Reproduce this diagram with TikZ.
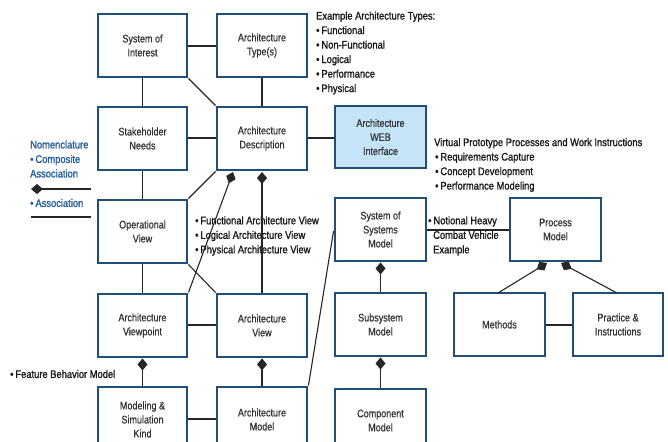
\documentclass[tikz,border=0pt]{standalone}
\usepackage{fontspec}
\setmainfont{Liberation Sans}[FakeStretch=0.82]
\newfontfamily\notefont{Liberation Sans}[FakeStretch=0.85, FakeBold=1.3]
\newfontfamily\boxfont{Liberation Sans}[FakeStretch=0.82, FakeBold=0.6]
\usetikzlibrary{arrows.meta}
\definecolor{boxblue}{HTML}{1F4E79}
\definecolor{webfill}{HTML}{C6E4F8}
\definecolor{nomblue}{HTML}{1F5C99}
\definecolor{txtgray}{HTML}{333333}
\tikzset{
  blk/.style={draw=boxblue, line width=2.9pt, fill=white, text=txtgray,
    align=center, font=\boxfont\fontsize{11}{14}\selectfont, inner sep=0pt},
  assoc/.style={draw=black!85, line width=1.1pt},
  comp/.style={assoc, {Diamond[length=12pt,width=10pt]}-},
  note/.style={anchor=west, align=left, text=black!90,
    font=\notefont\fontsize{11}{14.5}\selectfont, inner sep=0pt},
}
\newcommand{\blkbox}[6]{% name, x1, y1, x2, y2, text
  \node[blk, minimum width=#4pt-#2pt, minimum height=#5pt-#3pt]
    (#1) at ({(#2+#4)/2},{(#3+#5)/2}) {#6};}
\newcommand{\bul}{\textbullet\hspace{2pt}}
\begin{document}
\begin{tikzpicture}[x=1pt,y=-1pt]
\useasboundingbox (0,0) rectangle (668,441);

% annotations set underneath the connectors
\node[note] (types) at (316,53) {Example Architecture Types:\\
  \bul Functional\\ \bul Non-Functional\\ \bul Logical\\
  \bul Performance\\ \bul Physical};
\node[note] (vp) at (434,165) {Virtual Prototype Processes and Work Instructions\\
  \hspace{1pt}\bul Requirements Capture\\ \hspace{1pt}\bul Concept Development\\
  \hspace{1pt}\bul Performance Modeling};
\node[note] (views) at (195,236) {\bul Functional Architecture View\\
  \bul Logical Architecture View\\ \bul Physical Architecture View};
\node[note] (fbm) at (10,374) {\bul Feature Behavior Model};
\node[note] (hcv) at (428,236) {\bul Notional Heavy\\ \hspace{5pt}Combat Vehicle\\ \hspace{5pt}Example};
\node[note, text=nomblue] (nom) at (30,159) {Nomenclature\\ \bul Composite\\ Association};
\node[note, text=nomblue] (nas) at (30,203) {\bul Association};

% legend lines
\coordinate (lc1) at (31,189);
\coordinate (lc2) at (91,189);
\coordinate (la1) at (31,217);
\coordinate (la2) at (91,217);
\draw[comp] (lc1) -- (lc2);
\draw[assoc] (la1) -- (la2);

% boxes
\blkbox{soi}{98}{14}{187}{77}{System of\\Interest}
\blkbox{atype}{217}{14}{307}{77}{Architecture\\Type(s)}
\blkbox{stake}{98}{107}{187}{170}{Stakeholder\\Needs}
\blkbox{adesc}{217}{107}{307}{170}{Architecture\\Description}
\node[blk, fill=webfill, minimum width=91pt, minimum height=62pt]
  (web) at (380.5,137) {Architecture\\WEB\\Interface};
\blkbox{opv}{98}{200}{187}{263}{Operational\\View}
\blkbox{avp}{98}{294}{187}{357}{Architecture\\Viewpoint}
\blkbox{aview}{217}{294}{307}{357}{Architecture\\View}
\blkbox{msk}{98}{387}{187}{452}{Modeling \&\\Simulation\\Kind}
\blkbox{amod}{217}{387}{307}{452}{Architecture\\Model}
\blkbox{sos}{335}{198}{426}{261}{System of\\Systems\\Model}
\blkbox{proc}{510}{198}{601}{261}{Process\\Model}
\blkbox{sub}{335}{293}{426}{356}{Subsystem\\Model}
\blkbox{meth}{454}{293}{545}{356}{Methods}
\blkbox{prac}{573}{293}{663}{356}{Practice \&\\Instructions}
\blkbox{compm}{335}{389}{426}{452}{Component\\Model}

% associations
\draw[assoc] (soi.east |- 0,46) -- (atype.west |- 0,46);
\draw[assoc] (soi.south) -- (stake.north);
\draw[assoc] (soi.south east) -- (adesc.north west);
\draw[assoc] (atype.south) -- (adesc.north);
\draw[assoc] (stake.east |- 0,138) -- (adesc.west |- 0,138);
\draw[assoc] (adesc.east |- 0,138) -- (web.west |- 0,138);
\draw[assoc] (stake.south) -- (opv.north);
\draw[assoc] (adesc.south west) -- (opv.north east);
\draw[assoc] (opv.south east) -- (aview.north west);
\draw[assoc] (opv.south) -- (avp.north);
\draw[assoc] (avp.east |- 0,325) -- (aview.west |- 0,325);
\draw[assoc] (msk.east |- 0,419) -- (amod.west |- 0,419);
\draw[assoc] (amod.north east) -- (sos.west |- 0,231);
\draw[assoc] (sos.east |- 0,230) -- (proc.west |- 0,230);
\draw[assoc] (meth.east |- 0,325) -- (prac.west |- 0,325);

% composite associations
\coordinate (d1) at (233,172);
\coordinate (d2) at (262,172);
\coordinate (d3) at (547,263);
\coordinate (d4) at (561,263);
\coordinate (mtop) at (498,293);
\coordinate (ptop) at (617,293);
\draw[comp] (d1) -- (avp.north east);
\draw[comp] (d2) -- (aview.north);
\draw[comp] (avp.south) -- (msk.north);
\draw[comp] (aview.south) -- (amod.north);
\draw[comp] (sos.south) -- (sub.north);
\draw[comp] (sub.south) -- (compm.north);
\draw[comp] (d3) -- (mtop);
\draw[comp] (d4) -- (ptop);
\end{tikzpicture}
\end{document}
